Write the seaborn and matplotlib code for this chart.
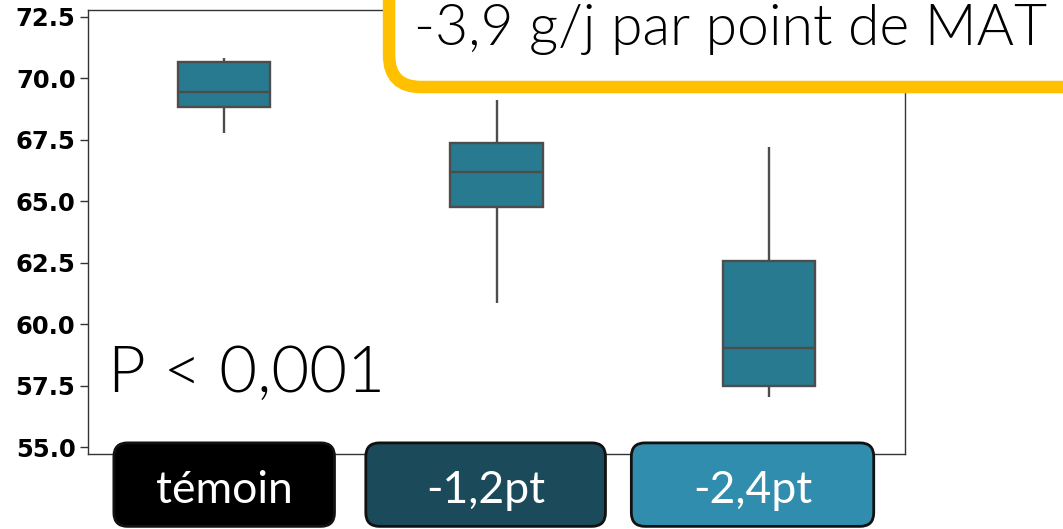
import matplotlib
matplotlib.use("Agg")
import matplotlib.pyplot as plt
from matplotlib.patches import FancyBboxPatch
import seaborn as sns
import pandas as pd

# Daily gain (g/j) per diet: five summary observations per group
groups = ["témoin", "-1,2pt", "-2,4pt"]
temoin = [67.76, 68.85, 69.46, 70.68, 70.82]
moins_1_2 = [60.88, 64.78, 66.18, 67.38, 69.12]
moins_2_4 = [57.03, 57.48, 59.02, 62.57, 67.21]
yticks = [55.0, 57.5, 60.0, 62.5, 65.0, 67.5, 70.0, 72.5]
label_colors = ["#000000", "#1B4B5A", "#318DAE"]
p_text = "P < 0,001"
slope_text = "-3,9 g/j par point de MAT"

df = pd.DataFrame({
    "groupe": [groups[0]] * len(temoin) + [groups[1]] * len(moins_1_2) + [groups[2]] * len(moins_2_4),
    "gmq": temoin + moins_1_2 + moins_2_4,
})

sns.set_style("white")
plt.rcParams["font.family"] = ["Lato", "DejaVu Sans"]

fig = plt.figure(figsize=(10.63, 5.29), dpi=100)
ax_rect = [0.0828, 0.1418, 0.7686, 0.8393]
ax = fig.add_axes(ax_rect)

sns.boxplot(data=df, x="groupe", y="gmq", order=groups, color="#277A8F",
            saturation=1, width=0.34, whis=(0, 100), showcaps=False,
            linecolor="#4D4D4D", linewidth=1.7, ax=ax)

ax.set_xlim(-0.5, 2.5)
ax.set_ylim(54.72, 72.78)
ax.set_yticks(yticks)
ax.set_yticklabels([f"{v:.1f}" for v in yticks], fontfamily="DejaVu Sans",
                   fontsize=17.5, fontweight="bold", color="black")
ax.tick_params(axis="y", left=True, length=6, width=1, color="#333333", pad=3)
ax.tick_params(axis="x", bottom=False, labelbottom=False)
ax.set_xlabel("")
ax.set_ylabel("")
for s in ax.spines.values():
    s.set_color("#333333")
    s.set_linewidth(1.0)

# Significance note
ax.text(0.025, 0.14, p_text, transform=ax.transAxes, fontsize=47,
        fontweight=300, color="black", ha="left", va="baseline")

# Slope callout in a rounded yellow frame, running off the top-right corner
fig_w, fig_h = fig.get_size_inches() * fig.dpi
callout = FancyBboxPatch((0.366, 0.8355), 0.75, 0.3,
                         boxstyle="round,pad=0,rounding_size=0.03",
                         transform=fig.transFigure, facecolor="white",
                         edgecolor="#FFC000", linewidth=9, zorder=5,
                         mutation_aspect=fig_w / fig_h)
fig.patches.append(callout)
fig.text(0.389, 0.915, slope_text, fontsize=41, fontweight=300,
         color="black", ha="left", va="baseline", zorder=6)

# Category badges under each box (x in category units, y in axes fraction)
badge_centers = [0.0, 0.96, 1.94]
badge_widths = [0.81, 0.88, 0.89]
unit_px = ax_rect[2] * fig_w / 3
height_px = ax_rect[3] * fig_h
trans = ax.get_xaxis_transform()
for name, col, cx, bw in zip(groups, label_colors, badge_centers, badge_widths):
    badge = FancyBboxPatch((cx - bw / 2, -0.163), bw, 0.188,
                           boxstyle="round,pad=0,rounding_size=0.05",
                           transform=trans, facecolor=col, edgecolor="#111111",
                           linewidth=2, clip_on=False, zorder=4,
                           mutation_aspect=unit_px / height_px)
    ax.add_patch(badge)
    ax.text(cx, -0.110, name, transform=trans, fontsize=32, color="white",
            ha="center", va="baseline", zorder=5, clip_on=False)

fig.savefig("out.png", dpi=100)
